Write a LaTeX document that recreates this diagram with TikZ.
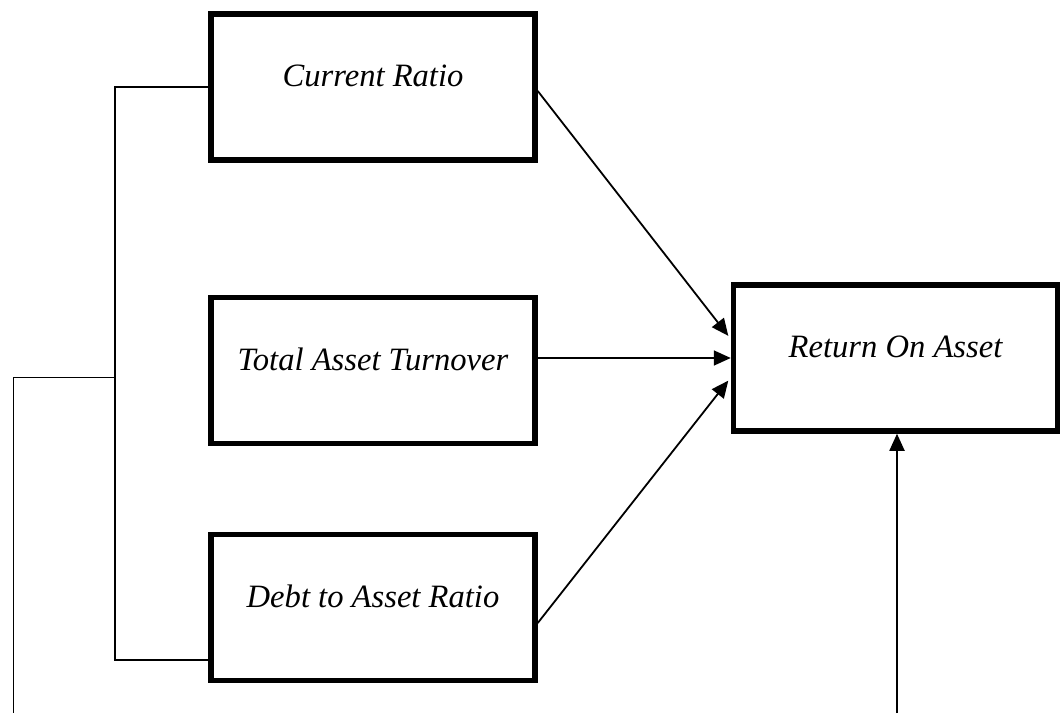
\documentclass[tikz,border=0pt]{standalone}
\usepackage{fontspec}
\setmainfont{Liberation Serif}
\usetikzlibrary{arrows.meta}

\begin{document}
\begin{tikzpicture}[x=0.5pt, y=0.5pt,
    box/.style={draw, line width=2.75pt, minimum width=162pt, minimum height=73pt,
        text height=12pt, text depth=12pt, font=\fontsize{16.3}{20}\selectfont\itshape},
    link/.style={line width=0.8pt},
    arr/.style={line width=0.9pt, -{Triangle[length=8.5pt, width=7.5pt]}}]
    \useasboundingbox (0,0) rectangle (1060,713);

    % Left column: the three ratios
    \node[box] (cr)  at (373,626)   {Current Ratio};
    \node[box] (tat) at (373,342.5) {Total Asset Turnover};
    \node[box] (dar) at (373,105.5) {Debt to Asset Ratio};

    % Right: dependent variable
    \node[box] (roa) at (895.5,355) {Return On Asset};

    % Bracket joining the ratios
    \coordinate (brace) at (115,335.5);
    \coordinate (feed) at (13.5,0);
    \draw[link] (cr.west) -- (cr.west -| brace) -- ([yshift=-26.25pt]dar.west -| brace)
        -- ([yshift=-26.25pt]dar.west);
    \draw[link] (brace) -- (brace -| feed) -- (feed);

    % Arrows into Return On Asset
    \draw[arr, shorten >=2pt] ([yshift=-2pt]cr.east) -- ([yshift=9.5pt]roa.west);
    \draw[arr] (roa.west -| tat.east) -- (roa.west);
    \draw[arr, shorten >=2pt] ([yshift=-7.75pt]dar.east) -- ([yshift=-9.75pt]roa.west);

    % Joint effect from below
    \coordinate (joint) at (897,0);
    \draw[arr] (joint) -- (joint |- roa.south);
\end{tikzpicture}
\end{document}
